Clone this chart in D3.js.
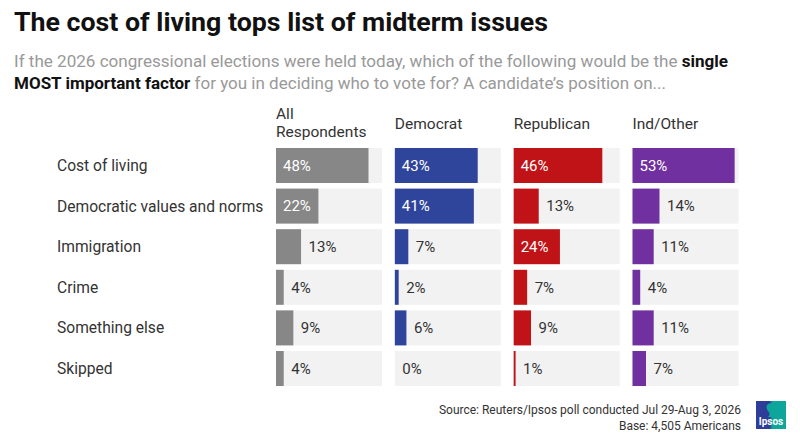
<!DOCTYPE html>
<html><head><meta charset="utf-8">
<script src="https://cdn.jsdelivr.net/npm/d3@7"></script>
<style>body{margin:0;background:#fff;}svg{display:block;font-family:Roboto,"Noto Sans",sans-serif;}</style>
</head><body>
<svg id="c" width="800" height="443"></svg>
<script>
const categories = ["Cost of living","Democratic values and norms","Immigration","Crime","Something else","Skipped"];
const groups = ["All Respondents","Democrat","Republican","Ind/Other"];
const allRespondents = [48,22,13,4,9,4];
const democrat = [43,41,7,2,6,0];
const republican = [46,13,24,7,9,1];
const indOther = [53,14,11,4,11,7];
const seriesValues = [allRespondents, democrat, republican, indOther];
const colors = ["#878787","#2f459b","#c01318","#7030a0"];

const svg = d3.select("#c");
svg.append("rect").attr("width",800).attr("height",443).attr("fill","#fff");

// Title
svg.append("text").attr("x",14).attr("y",31).attr("font-size",26).attr("font-weight",700)
  .attr("fill","#111").attr("textLength",534).attr("lengthAdjust","spacingAndGlyphs")
  .text("The cost of living tops list of midterm issues");
const s1 = svg.append("text").attr("x",14).attr("y",67).attr("font-size",17).attr("fill","#999")
  .attr("textLength",714).attr("lengthAdjust","spacingAndGlyphs");
s1.append("tspan").text("If the 2026 congressional elections were held today, which of the following would be the ");
s1.append("tspan").attr("font-weight",700).attr("fill","#111").text("single");
const s2 = svg.append("text").attr("x",14).attr("y",89).attr("font-size",17).attr("fill","#999")
  .attr("textLength",652).attr("lengthAdjust","spacingAndGlyphs");
s2.append("tspan").attr("font-weight",700).attr("fill","#111").text("MOST important factor");
s2.append("tspan").text(" for you in deciding who to vote for? A candidate\u2019s position on...");

// scales
const panelX = d3.scalePoint().domain(groups).range([276,632.5]);
const trackW = 106;
const x = d3.scaleLinear().domain([0,55]).range([0,trackW]);
const y = d3.scaleBand().domain(categories).range([148,386]).paddingInner(0.138).paddingOuter(0);

// category labels
svg.append("g").selectAll("text").data(categories).join("text")
  .attr("x",57).attr("y",d=>y(d)+y.bandwidth()/2+5.5)
  .attr("font-size",15.6).attr("fill","#333").text(d=>d);

// headers
groups.forEach((g,gi)=>{
  const px = panelX(g);
  if (g==="All Respondents"){
    svg.append("text").attr("x",px).attr("y",119).attr("font-size",15.5).attr("fill","#333").text("All");
    svg.append("text").attr("x",px).attr("y",137).attr("font-size",15.5).attr("fill","#333").text("Respondents");
  } else {
    svg.append("text").attr("x",px).attr("y",128.5).attr("font-size",15.5).attr("fill","#333").text(g);
  }
  const gp = svg.append("g");
  const vals = seriesValues[gi];
  gp.selectAll("rect.track").data(categories).join("rect").attr("class","track")
    .attr("x",px).attr("y",d=>y(d)).attr("width",trackW).attr("height",y.bandwidth()).attr("fill","#f2f2f2");
  gp.selectAll("rect.bar").data(categories).join("rect").attr("class","bar")
    .attr("x",px).attr("y",d=>y(d)).attr("width",(d,i)=>x(vals[i])).attr("height",y.bandwidth())
    .attr("fill",colors[gi]);
  gp.selectAll("text.val").data(categories).join("text").attr("class","val")
    .attr("x",(d,i)=> vals[i]>=20 ? px+7 : px+x(vals[i])+7.5)
    .attr("y",d=>y(d)+y.bandwidth()/2+5.2)
    .attr("font-size",15)
    .attr("fill",(d,i)=> vals[i]>=20 ? "#fff" : "#333")
    .text((d,i)=>vals[i]+"%");
});

// source
svg.append("text").attr("x",741).attr("y",414).attr("text-anchor","end").attr("font-size",12).attr("fill","#333")
  .text("Source: Reuters/Ipsos poll conducted Jul 29-Aug 3, 2026");
svg.append("text").attr("x",741).attr("y",430).attr("text-anchor","end").attr("font-size",12).attr("fill","#333")
  .text("Base: 4,505 Americans");

// logo
const defs = svg.append("defs");
const lg = defs.append("linearGradient").attr("id","lg").attr("x1","0").attr("x2","1");
lg.append("stop").attr("offset","0.45").attr("stop-color","#2e3d98");
lg.append("stop").attr("offset","0.55").attr("stop-color","#0ea59a");
svg.append("rect").attr("x",756).attr("y",401).attr("width",30).attr("height",28).attr("fill","url(#lg)");
svg.append("path").attr("d","M768,404 q5,-2 9,2 q2,4 -1,8 l1,3 l-9,0 q3,-3 0,-6 q-3,-4 0,-7z").attr("fill","#0ea59a");
svg.append("text").attr("x",771).attr("y",425).attr("text-anchor","middle").attr("font-size",10).attr("font-weight",700)
  .attr("fill","#fff").text("Ipsos");
</script>
</body></html>
